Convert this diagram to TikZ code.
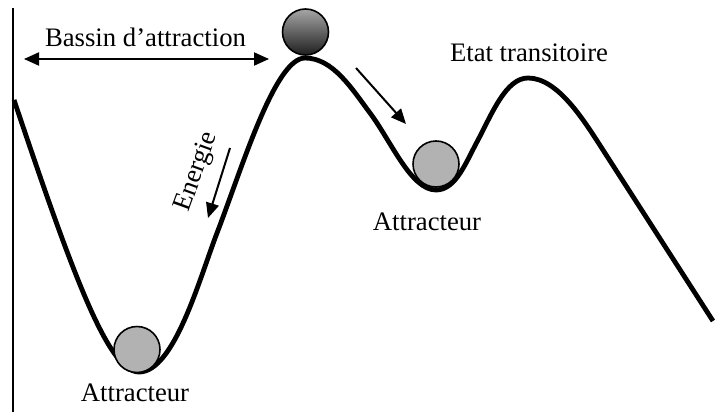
\documentclass[tikz,border=0pt]{standalone}
\usepackage{fontspec}
\setmainfont{Liberation Serif}
\usetikzlibrary{arrows.meta}
\tikzset{
  lbl/.style={font=\fontsize{26.7}{30}\selectfont, inner sep=0pt},
  ball/.style={circle, draw=black, line width=1.6pt, minimum size=46pt, inner sep=0pt, fill=black!30},
  topball/.style={circle, draw=black, line width=1.6pt, minimum size=46pt, inner sep=0pt, top color=black!35, bottom color=black!88},
  arr/.style={line width=2pt, -{Triangle[length=15pt,width=13pt]}},
  darr/.style={line width=2pt, {Triangle[length=15pt,width=13pt]}-{Triangle[length=15pt,width=13pt]}},
  land/.style={line width=4.8pt, line join=round, line cap=butt},
}
\begin{document}
\begin{tikzpicture}[x=1pt,y=-1pt]
\useasboundingbox (0,0) rectangle (722,412);
% vertical axis
\coordinate (axtop) at (13,8);
\coordinate (axbot) at (13,412);
\draw[line width=2.6pt] (axtop) -- (axbot);
% landscape
\draw[land] (14,100)
  .. controls (72,272) and (108,372) .. (139,372)
  .. controls (174,372) and (199,280) .. (217,233)
  .. controls (242,168) and (275,58) .. (305,58)
  .. controls (333,58) and (352,89) .. (370,113)
  .. controls (391,141) and (411,190) .. (436,190)
  .. controls (456,190) and (466,162) .. (478,140)
  .. controls (492,113.5) and (506,78) .. (528,78)
  .. controls (558,78) and (584,120.6) .. (603,150)
  -- (713,321);
% balls
\node[topball] (b0) at (305.5,32) {};
\node[ball] (b1) at (137,349.5) {};
\node[ball] (b2) at (436,164) {};
% labels
\node[lbl, anchor=base] (bassin) at (145.5,47) {Bassin d'attraction};
\node[lbl, anchor=base] (etat) at (529,61) {Etat transitoire};
\node[lbl, anchor=base] (att1) at (135,401) {Attracteur};
\node[lbl, anchor=base] (att2) at (427,230) {Attracteur};
\node[lbl, rotate=70] (energie) at (197,172) {Energie};
% arrows
\coordinate (bl) at (24,59);
\coordinate (br) at (269,59);
\draw[darr] (bl) -- (br);
\coordinate (s1) at (356,68);
\coordinate (s2) at (406,124);
\draw[arr] (s1) -- (s2);
\coordinate (e1) at (230,148);
\coordinate (e2) at (208,218);
\draw[arr] (e1) -- (e2);
\end{tikzpicture}
\end{document}
